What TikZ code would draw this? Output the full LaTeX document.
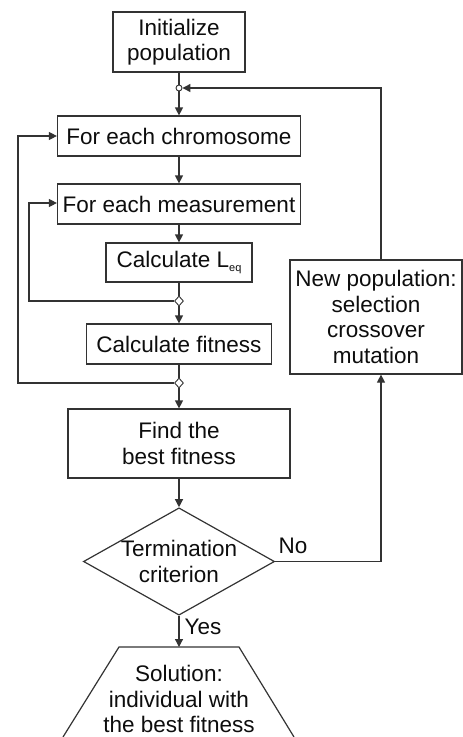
\documentclass[tikz,border=0pt]{standalone}
\usepackage{fontspec}
\setmainfont{Liberation Sans}
\usetikzlibrary{arrows.meta,shapes.geometric}
\begin{document}
\begin{tikzpicture}[x=1pt,y=-1pt,
  every node/.style={font=\fontsize{22.5}{25.5}\selectfont, text=black!95},
  box/.style={draw=black!80, line width=1.2pt, rectangle, align=center, inner sep=0pt},
  dec/.style={draw=black!80, line width=1.2pt, diamond, aspect=1.78, inner sep=0pt, align=center, minimum width=191pt, minimum height=107pt},
  conn/.style={draw=black!80, line width=1.2pt},
  arr/.style={conn, -{Triangle[length=8pt,width=8pt]}},
  jcirc/.style={circle, draw=black!80, line width=0.9pt, fill=white, inner sep=0pt, minimum size=6pt},
  jdia/.style={diamond, draw=black!80, line width=0.9pt, fill=white, inner sep=0pt, minimum width=9pt, minimum height=10pt},
  lbl/.style={inner sep=0pt}
]
\useasboundingbox (0,0) rectangle (463,737);

\node[box, minimum width=132pt, minimum height=60pt] (init) at (179,42) {Initialize\\population};
\node[box, minimum width=243pt, minimum height=40pt] (chrom) at (179,136) {For each chromosome};
\node[box, minimum width=243pt, minimum height=40pt] (meas) at (179,204) {For each measurement};
\node[box, minimum width=146pt, minimum height=39pt] (leq) at (179,262.5) {Calculate L\raisebox{-4pt}{\fontsize{11}{11}\selectfont eq}};
\node[box, minimum width=185pt, minimum height=40pt] (fit) at (179,344) {Calculate fitness};
\node[box, minimum width=222pt, minimum height=69pt] (best) at (179,443.5) {Find the\\best fitness};
\node[box, minimum width=172pt, minimum height=114pt] (newpop) at (376,317) {New population:\\selection\\crossover\\mutation};
\node[dec] (term) at (179,561.5) {Termination\\criterion};

% trapezoid (solution), open at the picture's bottom edge
\coordinate (soltop) at (179,647);
\draw[conn] (63,737) -- (119,647) -- (239,647) -- (294,737);
\node[lbl, align=center] (sol) at (179,699) {Solution:\\individual with\\the best fitness};

% junctions
\node[jcirc] (j0) at (179,88) {};
\node[jdia] (j1) at (179,301) {};
\node[jdia] (j2) at (179,383) {};
\coordinate (rx) at (381,561.5);

% connectors
\draw[conn] (init.south) -- (j0.north);
\draw[arr] (j0.south) -- (chrom.north);
\draw[arr] (chrom.south) -- (meas.north);
\draw[arr] (meas.south) -- (leq.north);
\draw[conn] (leq.south) -- (j1.north);
\draw[arr] (j1.south) -- (fit.north);
\draw[arr] (j1.west) -- (29,301) -- (29,203) -- (meas.west |- 0,203);
\draw[conn] (fit.south) -- (j2.north);
\draw[arr] (j2.south) -- (best.north);
\draw[arr] (j2.west) -- (18,383) -- (18,136) -- (chrom.west);
\draw[arr] (best.south) -- (term.north);
\draw[arr] (term.east) -- (rx) -- (newpop.south -| rx);
\draw[arr] (newpop.north -| rx) -- (381,88) -- (j0.east);
\draw[arr] (term.south) -- (soltop);

% labels
\node[lbl] (no) at (293,546) {No};
\node[lbl] (yes) at (203,627) {Yes};
\end{tikzpicture}
\end{document}
